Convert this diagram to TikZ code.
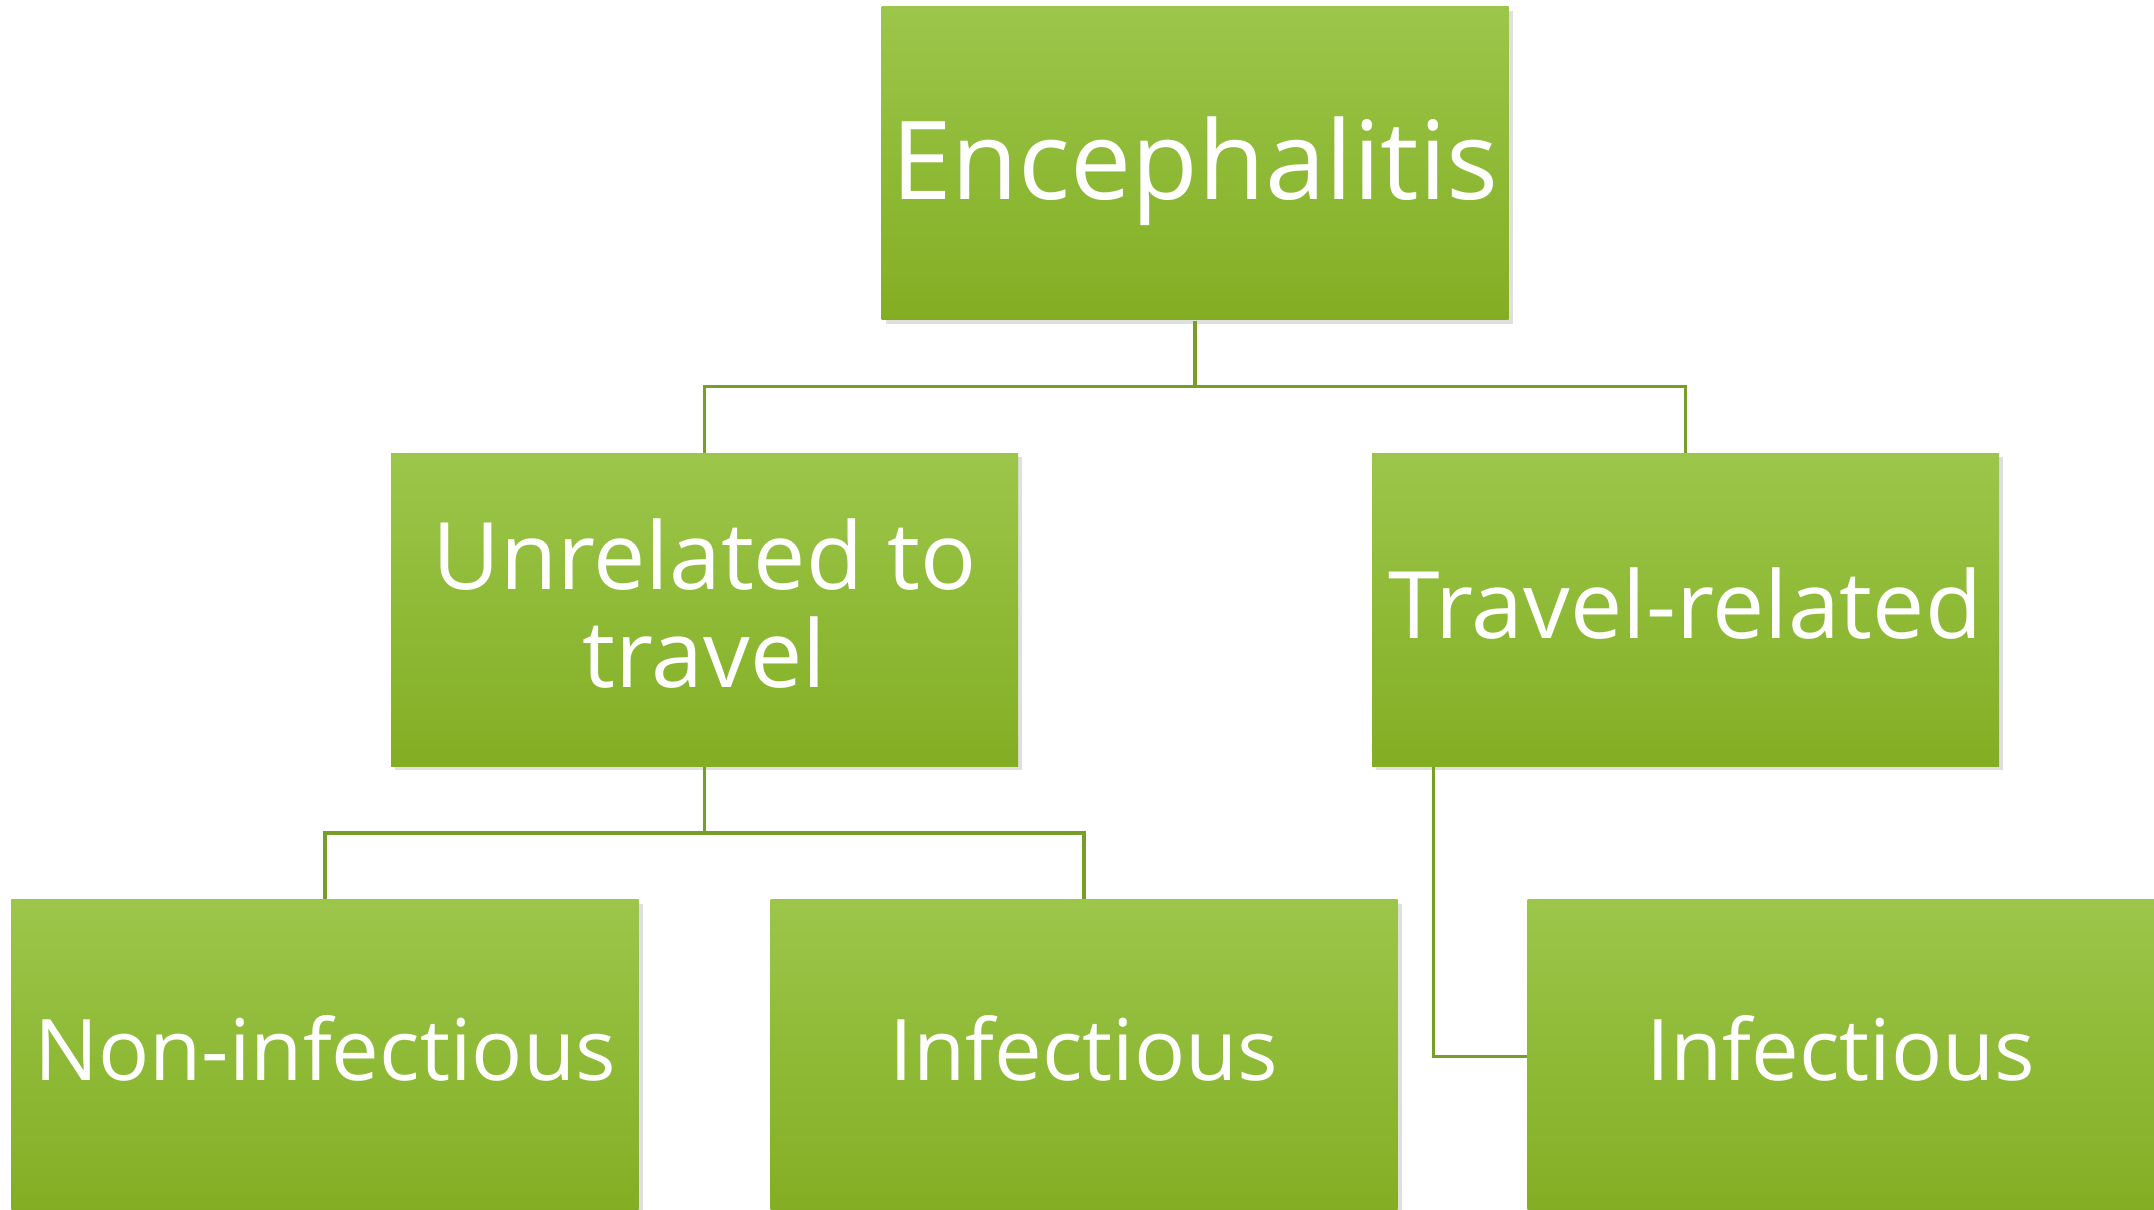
\documentclass[tikz,border=0pt]{standalone}
\usepackage{fontspec}
\setmainfont{Open Sans}
\usetikzlibrary{positioning,shadows}

\definecolor{leafTop}{RGB}{155,198,74}
\definecolor{leafBot}{RGB}{131,174,35}
\definecolor{linkGreen}{RGB}{118,158,40}

\begin{document}
\begin{tikzpicture}[
  box/.style={rectangle, top color=leafTop, bottom color=leafBot, draw=none, text=white, align=center,
    minimum width=6.27cm, minimum height=3.13cm, inner sep=0pt,
    drop shadow={opacity=0.25, shadow xshift=0.04cm, shadow yshift=-0.04cm}},
  link/.style={draw=linkGreen, line width=1pt}
]
\useasboundingbox (0,0) rectangle (21.54,-12.10);
\fill[white] (0,0) rectangle (21.54,-12.10);

% top level
\node[box, text depth=3pt, font=\fontsize{31}{33}\selectfont] (enc) at (11.95,-1.635) {Encephalitis};

% second level
\node[box, below=1.32cm of enc, xshift=-4.905cm, text depth=4pt, font=\fontsize{26.5}{28}\selectfont] (unrel) {Unrelated to\\travel};
\node[box, below=1.32cm of enc, xshift=4.905cm, text depth=4pt, font=\fontsize{26.5}{28}\selectfont] (trav) {Travel-related};

% third level
\node[box, below=1.32cm of unrel, xshift=-3.795cm, text depth=4.5pt, font=\fontsize{24.2}{26}\selectfont] (noninf) {Non-infectious};
\node[box, below=1.32cm of unrel, xshift=3.795cm, text depth=4.5pt, font=\fontsize{24.2}{26}\selectfont] (inf) {Infectious};
\node[box, below=1.32cm of trav, xshift=1.555cm, text depth=4.5pt, font=\fontsize{24.2}{26}\selectfont] (travinf) {Infectious};

\draw[link] (enc.south) -- ++(0,-0.66) -| (unrel.north);
\draw[link] (enc.south) -- ++(0,-0.66) -| (trav.north);
\draw[link] (unrel.south) -- ++(0,-0.66) -| (noninf.north);
\draw[link] (unrel.south) -- ++(0,-0.66) -| (inf.north);
\draw[link] ([xshift=0.62cm]trav.south west) |- (travinf.west);
\end{tikzpicture}
\end{document}
